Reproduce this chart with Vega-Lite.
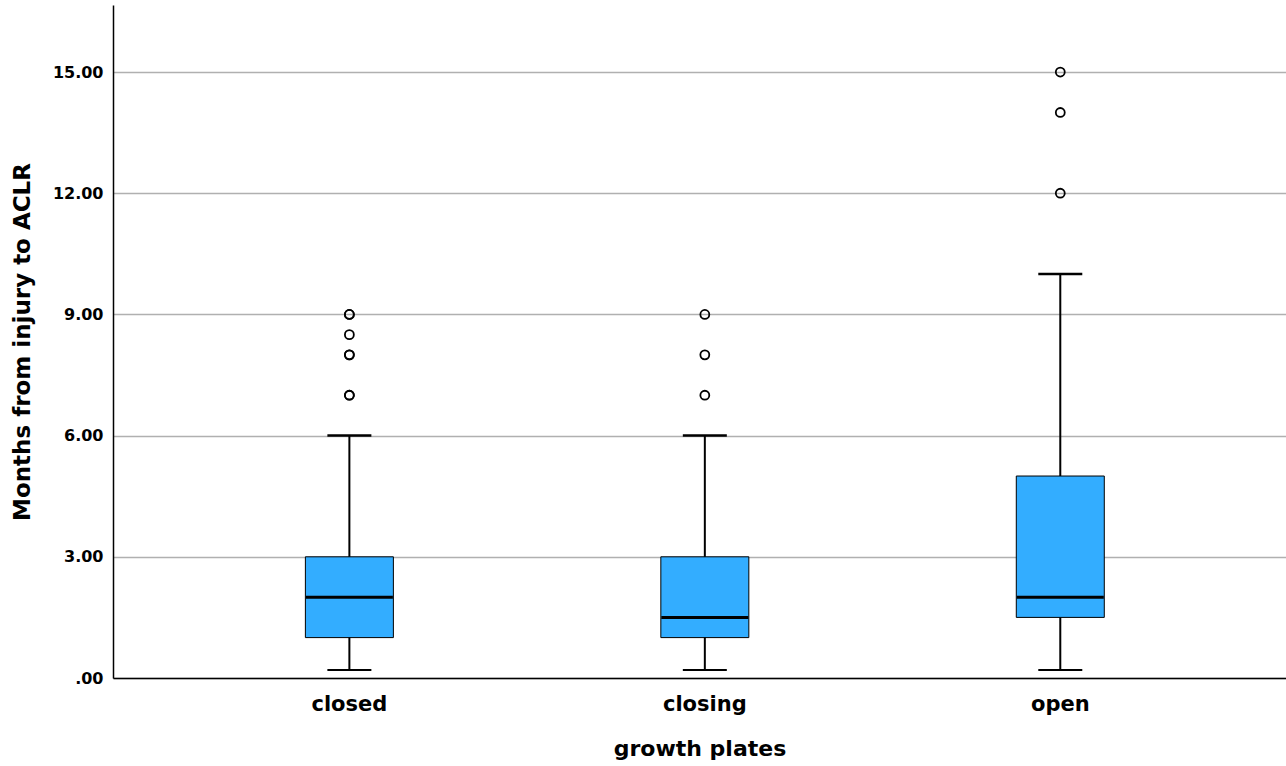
{
  "$schema": "https://vega.github.io/schema/vega-lite/v6.json",
  "width": 1173,
  "height": 673,
  "autosize": "none",
  "padding": {"left": 113, "top": 5, "right": 0, "bottom": 88},
  "background": "white",
  "config": {
    "view": {"stroke": null},
    "axis": {"labelFont": "DejaVu Sans", "titleFont": "DejaVu Sans", "labelFontWeight": "bold", "titleFontWeight": "bold", "labelColor": "#000000", "titleColor": "#000000"}
  },
  "datasets": {
    "stats": [
      {"plates": "closed", "lower": 0.2, "q1": 1.0, "median": 2.0, "q3": 3.0, "upper": 6.0},
      {"plates": "closing", "lower": 0.2, "q1": 1.0, "median": 1.5, "q3": 3.0, "upper": 6.0},
      {"plates": "open", "lower": 0.2, "q1": 1.5, "median": 2.0, "q3": 5.0, "upper": 10.0}
    ],
    "outliers": [
      {"plates": "closed", "months": 7.0},
      {"plates": "closed", "months": 7.0},
      {"plates": "closed", "months": 8.0},
      {"plates": "closed", "months": 8.0},
      {"plates": "closed", "months": 8.5},
      {"plates": "closed", "months": 9.0},
      {"plates": "closed", "months": 9.0},
      {"plates": "closing", "months": 7.0},
      {"plates": "closing", "months": 8.0},
      {"plates": "closing", "months": 9.0},
      {"plates": "open", "months": 12.0},
      {"plates": "open", "months": 14.0},
      {"plates": "open", "months": 15.0}
    ]
  },
  "encoding": {
    "x": {
      "field": "plates", "type": "nominal",
      "scale": {"domain": ["closed", "closing", "open"], "paddingInner": 0, "paddingOuter": 0.15, "align": 0.55},
      "axis": {"title": "growth plates", "labelAngle": 0, "labelFontSize": 21, "titleFontSize": 22, "ticks": false, "domainColor": "#000000", "domainWidth": 1.5, "labelPadding": 15, "titlePadding": 24}
    }
  },
  "layer": [
    {
      "data": {"name": "stats"},
      "mark": {"type": "rule", "color": "#000000", "strokeWidth": 2},
      "encoding": {
        "y": {
          "field": "lower", "type": "quantitative",
          "scale": {"domain": [0, 16.66], "nice": false, "zero": true},
          "axis": {
            "title": "Months from injury to ACLR",
            "values": [0, 3, 6, 9, 12, 15],
            "labelExpr": "datum.value == 0 ? '.00' : format(datum.value, '.2f')",
            "labelFontSize": 16, "titleFontSize": 23, "ticks": false,
            "domainColor": "#000000", "domainWidth": 1.5,
            "grid": true, "gridColor": "#b0b0b0", "gridWidth": 1.5,
            "labelPadding": 10, "titlePadding": 18
          }
        },
        "y2": {"field": "upper"}
      }
    },
    {
      "data": {"name": "stats"},
      "mark": {"type": "tick", "color": "#000000", "opacity": 1, "size": 44, "thickness": 2},
      "encoding": {"y": {"field": "lower", "type": "quantitative"}}
    },
    {
      "data": {"name": "stats"},
      "mark": {"type": "tick", "color": "#000000", "opacity": 1, "size": 44, "thickness": 2.5},
      "encoding": {"y": {"field": "upper", "type": "quantitative"}}
    },
    {
      "data": {"name": "stats"},
      "mark": {"type": "bar", "size": 88, "fill": "#33adff", "stroke": "#000000", "strokeWidth": 1, "opacity": 1},
      "encoding": {"y": {"field": "q1", "type": "quantitative"}, "y2": {"field": "q3"}}
    },
    {
      "data": {"name": "stats"},
      "mark": {"type": "tick", "color": "#000000", "opacity": 1, "size": 87, "thickness": 3},
      "encoding": {"y": {"field": "median", "type": "quantitative"}}
    },
    {
      "data": {"name": "outliers"},
      "mark": {"type": "point", "shape": "circle", "filled": false, "stroke": "#000000", "strokeWidth": 1.8, "size": 80, "opacity": 1},
      "encoding": {"y": {"field": "months", "type": "quantitative"}}
    }
  ]
}
